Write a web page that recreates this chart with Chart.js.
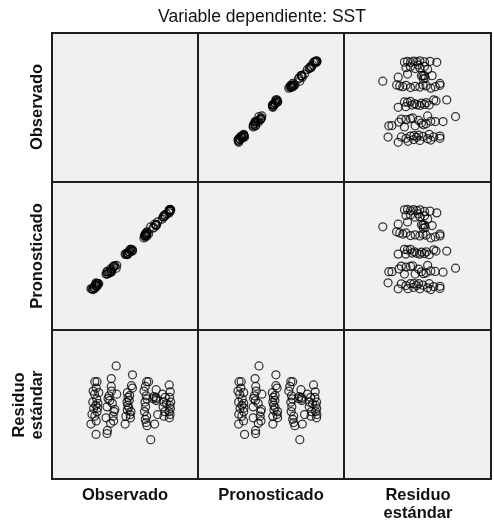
<!DOCTYPE html>
<html>
<head>
<meta charset="utf-8">
<script src="https://cdn.jsdelivr.net/npm/chart.js@4.4.0/dist/chart.umd.min.js"></script>
<style>
body { margin:0; background:#fff; font-family:"Liberation Sans", Arial, sans-serif; }
#lienzo { position:relative; width:494px; height:530px; overflow:hidden; }
.celda { position:absolute; background:#f0f0f0; }
.celda canvas { position:absolute; left:0; top:0; }
.linea { position:absolute; background:#1e1e1e; }
.texto { position:absolute; color:#111; white-space:nowrap; text-align:center; line-height:18px; }
.negrita { font-weight:bold; font-size:16.5px; }
.vertical { transform:translate(-50%,-50%) rotate(-90deg); }
.horizontal { transform:translateX(-50%); }
</style>
</head>
<body>
<div id="lienzo"></div>
<script>
// nombres de las variables
const variables = ["Observado", "Pronosticado", "Residuo estándar"]

// valores (90 casos)
const observado = [
    24.29, 23.99, 24.30, 24.22, 24.35, 24.15, 24.28, 24.10, 24.33, 24.20, 24.12, 24.30, 24.35, 24.22, 24.45, 24.40, 24.05, 24.38,
    24.94, 24.96, 25.33, 25.30, 25.35, 24.88, 24.94, 25.10, 25.06, 25.20, 25.19, 25.19, 25.48, 25.51, 25.25, 25.40, 25.00, 25.15,
    26.01, 26.32, 26.30, 26.35, 26.14, 26.16, 26.12, 26.18, 26.14, 26.44, 26.44, 26.25, 26.05, 26.38, 26.22, 26.28,
    27.52, 27.75, 27.93, 27.84, 27.84, 27.84, 27.84, 27.39, 27.30, 27.25, 27.20, 27.28, 27.15, 27.22, 27.18, 27.30, 27.25, 27.12, 27.20, 27.28, 27.65, 27.70,
    28.62, 28.66, 28.60, 28.68, 28.64, 28.70, 28.63, 28.67, 28.61, 28.30, 28.35, 28.25, 28.30, 28.38, 28.20, 28.45
]
const pronosticado = [
    24.44, 24.09, 24.38, 24.28, 24.39, 24.17, 24.28, 24.09, 24.30, 24.15, 24.05, 24.22, 24.24, 24.11, 24.39, 24.39, 24.10, 24.40,
    25.09, 25.09, 25.41, 25.36, 25.39, 24.95, 24.95, 25.08, 25.02, 25.13, 25.10, 25.06, 25.29, 25.46, 25.24, 25.43, 24.97, 25.25,
    26.11, 26.39, 26.35, 26.39, 26.17, 26.16, 26.11, 26.14, 26.08, 26.36, 26.29, 26.23, 26.11, 26.29, 26.24, 26.24,
    27.70, 27.85, 27.98, 27.82, 27.81, 27.80, 27.77, 27.28, 27.41, 27.34, 27.28, 27.34, 27.19, 27.23, 27.17, 27.27, 27.21, 27.05, 27.11, 27.17, 27.62, 27.66,
    28.69, 28.71, 28.64, 28.70, 28.64, 28.69, 28.59, 28.61, 28.51, 28.36, 28.39, 28.26, 28.29, 28.34, 28.15, 28.45
]
const residuo = [
    -1.51, -0.99, -0.83, -0.59, -0.36, -0.20, -0.04, 0.12, 0.28, 0.52, 0.68, 0.83, 1.15, 1.15, 0.60, 0.06, -0.49, -0.18,
    -1.47, -1.31, -0.83, -0.59, -0.36, -0.67, -0.12, 0.20, 0.44, 0.68, 0.91, 1.31, 1.95, 0.52, 0.06, -0.25, 0.30, -0.95,
    -0.99, -0.67, -0.51, -0.36, -0.28, -0.04, 0.12, 0.36, 0.60, 0.83, 1.50, 0.20, -0.60, 0.95, -0.15, 0.45,
    -1.78, -0.99, -0.51, 0.20, 0.28, 0.36, 0.75, 1.15, -1.07, -0.91, -0.75, -0.59, -0.36, -0.12, 0.12, 0.28, 0.44, 0.68, 0.91, 1.15, 0.30, 0.40,
    -0.67, -0.51, -0.36, -0.20, -0.04, 0.12, 0.36, 0.64, 0.99, -0.59, -0.36, -0.12, 0.12, 0.36, 0.52, 0.05
]

const series = [observado, pronosticado, residuo]
const rangos = [[22, 30], [22, 30], [-3.5, 3.5]]

const bordesX = [52, 198, 344, 491]
const bordesY = [33, 182, 330, 479]

const lienzo = document.getElementById("lienzo")

function agregarTexto(html, x, y, clases, estilo){
    const div = document.createElement("div")
    div.className = "texto " + clases
    div.innerHTML = html
    div.style.left = x + "px"
    div.style.top = y + "px"
    if (estilo) div.style.cssText += estilo
    lienzo.appendChild(div)
}

function agregarLinea(x, y, w, h){
    const div = document.createElement("div")
    div.className = "linea"
    div.style.left = x + "px"
    div.style.top = y + "px"
    div.style.width = w + "px"
    div.style.height = h + "px"
    lienzo.appendChild(div)
}

function carregarMatriz(){
    for (let fila = 0; fila < 3; fila++){
        for (let col = 0; col < 3; col++){
            const w = bordesX[col + 1] - bordesX[col]
            const h = bordesY[fila + 1] - bordesY[fila]
            const celda = document.createElement("div")
            celda.className = "celda"
            celda.style.left = bordesX[col] + "px"
            celda.style.top = bordesY[fila] + "px"
            celda.style.width = w + "px"
            celda.style.height = h + "px"
            lienzo.appendChild(celda)
            if (fila === col) continue

            const canvas = document.createElement("canvas")
            canvas.width = w
            canvas.height = h
            celda.appendChild(canvas)

            const xs = series[col]
            const ys = series[fila]
            const puntos = xs.map((v, i) => ({ x: v, y: ys[i] }))

            new Chart(canvas, {
                type: 'scatter',
                data: {
                    datasets: [{
                        data: puntos,
                        pointRadius: 4,
                        pointBackgroundColor: 'rgba(0,0,0,0)',
                        pointBorderColor: 'rgba(0,0,0,0.78)',
                        pointBorderWidth: 1.25
                    }]
                },
                options: {
                    responsive: false,
                    animation: false,
                    layout: { padding: 0 },
                    plugins: {
                        legend: { display: false },
                        tooltip: { enabled: false }
                    },
                    scales: {
                        x: { display: false, min: rangos[col][0], max: rangos[col][1] },
                        y: { display: false, min: rangos[fila][0], max: rangos[fila][1] }
                    }
                }
            })
        }
    }

    // lineas de la matriz
    for (const x of bordesX) agregarLinea(x - 1, bordesY[0] - 1, 2, bordesY[3] - bordesY[0] + 2)
    for (const y of bordesY) agregarLinea(bordesX[0] - 1, y - 1, bordesX[3] - bordesX[0] + 2, 2)

    // titulo
    agregarTexto("Variable dependiente: SST", 262, 7, "horizontal", "font-size:17.5px;")

    // etiquetas de columnas
    agregarTexto("Observado", 125, 485, "negrita horizontal")
    agregarTexto("Pronosticado", 271, 485, "negrita horizontal")
    agregarTexto("Residuo<br>estándar", 418, 485, "negrita horizontal")

    // etiquetas de filas
    agregarTexto("Observado", 36, 107, "negrita vertical")
    agregarTexto("Pronosticado", 36, 256, "negrita vertical")
    agregarTexto("Residuo<br>estándar", 27, 405, "negrita vertical")
}

carregarMatriz()
</script>
</body>
</html>
